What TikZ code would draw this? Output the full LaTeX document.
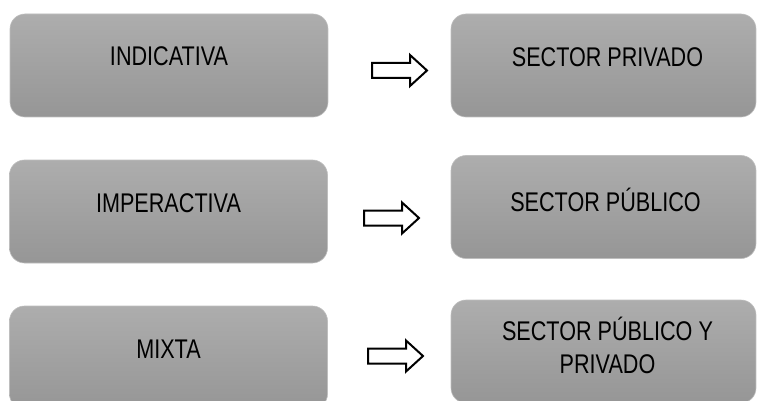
\documentclass[tikz,border=0pt]{standalone}
\usepackage{fontspec}
\setmainfont{Liberation Sans}[FakeStretch=0.8]
\definecolor{boxtop}{RGB}{173,173,173}
\definecolor{boxbot}{RGB}{150,150,150}
\definecolor{boxedge}{RGB}{190,190,190}
\begin{document}
\begin{tikzpicture}[x=1pt,y=-1pt,
  gbox/.style={rectangle, rounded corners=15pt, draw=boxedge, line width=0.6pt,
    top color=boxtop, bottom color=boxbot, inner sep=0pt, minimum height=103pt},
  lbox/.style={gbox, minimum width=318pt},
  rbox/.style={gbox, minimum width=305pt},
  txt/.style={font=\fontsize{27}{33}\selectfont, text=black, align=center, inner sep=0pt},
  blockarrow/.pic={\draw[line width=2pt, fill=white, line join=miter]
    (0,-7.5) -- (38,-7.5) -- (38,-15.5) -- (55,0) -- (38,15.5) -- (38,7.5) -- (0,7.5) -- cycle;}
]
\useasboundingbox (0,0) rectangle (757,401);
\node[lbox] (l1) at (169,65.5) {};
\node[lbox] (l2) at (168.5,211.5) {};
\node[lbox] (l3) at (168.5,357.5) {};
\node[rbox] (r1) at (603.5,65.5) {};
\node[rbox] (r2) at (603.5,207) {};
\node[rbox] (r3) at (603.5,351.5) {};
\node[txt] (t1) at ([yshift=9pt]l1.center) {INDICATIVA};
\node[txt] (t2) at ([yshift=8.5pt]l2.center) {IMPERACTIVA};
\node[txt] (t3) at ([yshift=8.5pt]l3.center) {MIXTA};
\node[txt] (u1) at ([xshift=4pt,yshift=8.5pt]r1.center) {SECTOR PRIVADO};
\node[txt] (u2) at ([xshift=2pt,yshift=7pt]r2.center) {SECTOR PÚBLICO};
\node[txt] (u3) at ([xshift=4pt,yshift=6.5pt]r3.center) {SECTOR PÚBLICO Y\\PRIVADO};
\pic (a1) at (372,70.5) {blockarrow};
\pic (a2) at (364,218) {blockarrow};
\pic (a3) at (368,356) {blockarrow};
\end{tikzpicture}
\end{document}
